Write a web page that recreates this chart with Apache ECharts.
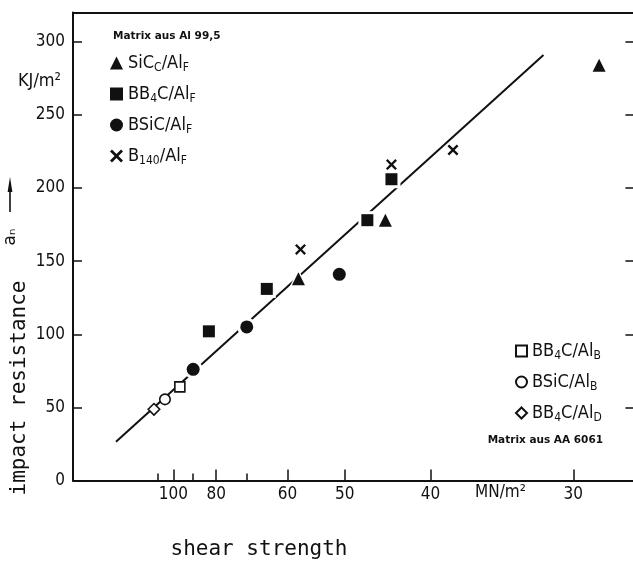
<!DOCTYPE html>
<html>
<head>
<meta charset="utf-8">
<script src="https://cdn.jsdelivr.net/npm/echarts@6/dist/echarts.min.js"></script>
<style>
  html, body { margin: 0; padding: 0; background: #fff; }
  #chart { width: 633px; height: 562px; }
</style>
</head>
<body>
<div id="chart"></div>
<script>
// shear strength tau (MN/m^2) and impact resistance a_n (kJ/m^2)
const sicTau = [57.8, 44.7, 28.7];
const sicVal = [138, 178, 284];
const bb4cTau = [82.8, 64.7, 46.9, 44.0];
const bb4cVal = [102, 131, 178, 206];
const bsicTau = [89.6, 70.0, 50.8];
const bsicVal = [76, 105, 141];
const b140Tau = [57.4, 44.0, 38.0];
const b140Val = [158, 216, 226];
const bb4cBTau = [96.3];
const bb4cBVal = [64];
const bsicBTau = [105.1];
const bsicBVal = [55.5];
const bb4cDTau = [112.7];
const bb4cDVal = [48.7];

// fitted straight line
const fitTau = [150.2, 31.65];
const fitVal = [26.5, 290.9];

const xTickTau = [100, 80, 60, 50, 40, 30];
const xMinorTau = [110, 90, 70];
const yTicks = [0, 50, 100, 150, 200, 250, 300];

// the x axis is reciprocal in tau, so plot 1000/tau
const inv = t => 1000 / t;
const pts = (tau, val) => tau.map((t, i) => [inv(t), val[i]]);

const INK = '#111';
const NARROW = "'DejaVu Sans Condensed', 'Liberation Sans Narrow', 'DejaVu Sans', sans-serif";
const MONO = "'DejaVu Sans Mono', 'Liberation Mono', monospace";
const X_SYMBOL = 'path://M1.5,0 L5,3.5 L8.5,0 L10,1.5 L6.5,5 L10,8.5 L8.5,10 L5,6.5 L1.5,10 L0,8.5 L3.5,5 L0,1.5 Z';

const X_MIN = 4.15, X_MAX = 36.9;

const subRich = {
  m: { fontFamily: NARROW, fontSize: 18, lineHeight: 22, color: INK },
  s: { fontFamily: NARROW, fontSize: 12, lineHeight: 4, verticalAlign: 'bottom', color: INK }
};
const richName = name => '{m|' + name.replace(/_\{([^}]*)\}/g, '}{s|$1}{m|') + '}';

const filledItem = { color: INK, opacity: 1 };
const openItem = { color: '#fff', borderColor: INK, borderWidth: 1.6, opacity: 1 };

function halo(symbol, size, tau, val) {
  return {
    type: 'scatter', symbol: symbol, symbolSize: size + 6,
    itemStyle: { color: '#fff', opacity: 1 }, data: pts(tau, val), z: 2, silent: true
  };
}

const chart = echarts.init(document.getElementById('chart'));

chart.setOption({
  backgroundColor: '#fff',
  animation: false,
  grid: { left: 73, top: 12.5, width: 561.4, height: 468, outerBoundsMode: 'none' },
  xAxis: [
    {
      type: 'value', position: 'bottom', min: X_MIN, max: X_MAX,
      axisLine: { lineStyle: { color: INK, width: 2 } },
      axisTick: { inside: true, length: 11, lineStyle: { color: INK, width: 1.5 },
        customValues: xTickTau.map(inv) },
      axisLabel: { customValues: xTickTau.map(inv), formatter: v => String(Math.round(1000 / v)),
        color: INK, fontFamily: NARROW, fontSize: 17, margin: 6 },
      splitLine: { show: false }
    },
    {
      type: 'value', position: 'bottom', min: X_MIN, max: X_MAX,
      axisLine: { show: false },
      axisTick: { inside: true, length: 7, lineStyle: { color: INK, width: 1.5 },
        customValues: xMinorTau.map(inv) },
      axisLabel: { show: false },
      splitLine: { show: false }
    },
    {
      type: 'value', position: 'top', min: X_MIN, max: X_MAX,
      axisLine: { lineStyle: { color: INK, width: 2 } },
      axisTick: { show: false }, axisLabel: { show: false }, splitLine: { show: false }
    }
  ],
  yAxis: [
    {
      type: 'value', position: 'left', min: 0, max: 320,
      axisLine: { show: true, lineStyle: { color: INK, width: 2 } },
      axisTick: { show: true, inside: true, length: 9, lineStyle: { color: INK, width: 1.5 },
        customValues: yTicks },
      axisLabel: { customValues: yTicks, color: INK, fontFamily: NARROW, fontSize: 17, margin: 8 },
      splitLine: { show: false }
    },
    {
      type: 'value', position: 'right', min: 0, max: 320,
      axisLine: { show: true, lineStyle: { color: INK, width: 2 } },
      axisTick: { show: true, inside: true, length: 9, lineStyle: { color: INK, width: 1.5 },
        customValues: yTicks.slice(1) },
      axisLabel: { show: false },
      splitLine: { show: false }
    }
  ],
  legend: [
    {
      data: ['SiC_{C}/Al_{F}', 'BB_{4}C/Al_{F}', 'BSiC/Al_{F}', 'B_{140}/Al_{F}'],
      orient: 'vertical', left: 110, top: 54, padding: 0, itemGap: 11,
      itemWidth: 13, itemHeight: 13, itemStyle: { borderWidth: 0, opacity: 1 },
      formatter: richName, textStyle: { rich: subRich }, selectedMode: false
    },
    {
      data: ['BB_{4}C/Al_{B}', 'BSiC/Al_{B}', 'BB_{4}C/Al_{D}'],
      orient: 'vertical', left: 515, top: 342, padding: 0, itemGap: 11,
      itemWidth: 11, itemHeight: 11, itemStyle: { opacity: 1 },
      formatter: richName, textStyle: { rich: subRich }, selectedMode: false
    }
  ],
  series: [
    {
      type: 'line', data: pts(fitTau, fitVal), symbol: 'none', silent: true, z: 1,
      lineStyle: { color: INK, width: 2 }
    },
    halo('triangle', 13, sicTau, sicVal),
    halo('rect', 12, bb4cTau, bb4cVal),
    halo('circle', 13, bsicTau, bsicVal),
    { name: 'SiC_{C}/Al_{F}', type: 'scatter', symbol: 'triangle', symbolSize: 13,
      itemStyle: filledItem, data: pts(sicTau, sicVal), z: 3 },
    { name: 'BB_{4}C/Al_{F}', type: 'scatter', symbol: 'rect', symbolSize: 12,
      itemStyle: filledItem, data: pts(bb4cTau, bb4cVal), z: 3 },
    { name: 'BSiC/Al_{F}', type: 'scatter', symbol: 'circle', symbolSize: 13,
      itemStyle: filledItem, data: pts(bsicTau, bsicVal), z: 3 },
    { name: 'B_{140}/Al_{F}', type: 'scatter', symbol: X_SYMBOL, symbolSize: 11,
      itemStyle: filledItem, data: pts(b140Tau, b140Val), z: 4 },
    { name: 'BB_{4}C/Al_{B}', type: 'scatter', symbol: 'rect', symbolSize: 10,
      itemStyle: openItem, data: pts(bb4cBTau, bb4cBVal), z: 3 },
    { name: 'BSiC/Al_{B}', type: 'scatter', symbol: 'circle', symbolSize: 10.5,
      itemStyle: openItem, data: pts(bsicBTau, bsicBVal), z: 3 },
    { name: 'BB_{4}C/Al_{D}', type: 'scatter', symbol: 'diamond', symbolSize: 11.5,
      itemStyle: openItem, data: pts(bb4cDTau, bb4cDVal), z: 3 }
  ],
  graphic: [
    { type: 'text', left: 113, top: 31,
      style: { text: 'Matrix aus Al 99,5', fill: INK, font: "bold 10.5px 'DejaVu Sans', sans-serif" } },
    { type: 'text', right: 30, top: 435,
      style: { text: 'Matrix aus AA 6061', fill: INK, font: "bold 10.5px 'DejaVu Sans', sans-serif" } },
    { type: 'text', left: 18, top: 72,
      style: { text: 'KJ/m²', fill: INK, font: "18px " + NARROW } },
    { type: 'text', left: 475, top: 484,
      style: { text: 'MN/m²', fill: INK, font: "17px " + NARROW } },
    { type: 'line', shape: { x1: 10, y1: 188, x2: 10, y2: 212 },
      style: { stroke: INK, lineWidth: 1.6 } },
    { type: 'polygon', shape: { points: [[10, 177], [7.6, 192], [12.4, 192]] },
      style: { fill: INK } },
    { type: 'text', x: 11, y: 237, rotation: Math.PI / 2,
      style: { text: 'aₙ', fill: INK, font: "17px 'DejaVu Sans', sans-serif",
        align: 'center', verticalAlign: 'middle' } },
    { type: 'text', x: 20, y: 388, rotation: Math.PI / 2,
      style: { text: 'impact resistance', fill: INK, font: "21px " + MONO,
        align: 'center', verticalAlign: 'middle' } },
    { type: 'text', x: 259, y: 550,
      style: { text: 'shear strength', fill: INK, font: "21px " + MONO,
        align: 'center', verticalAlign: 'middle' } }
  ]
});
</script>
</body>
</html>
